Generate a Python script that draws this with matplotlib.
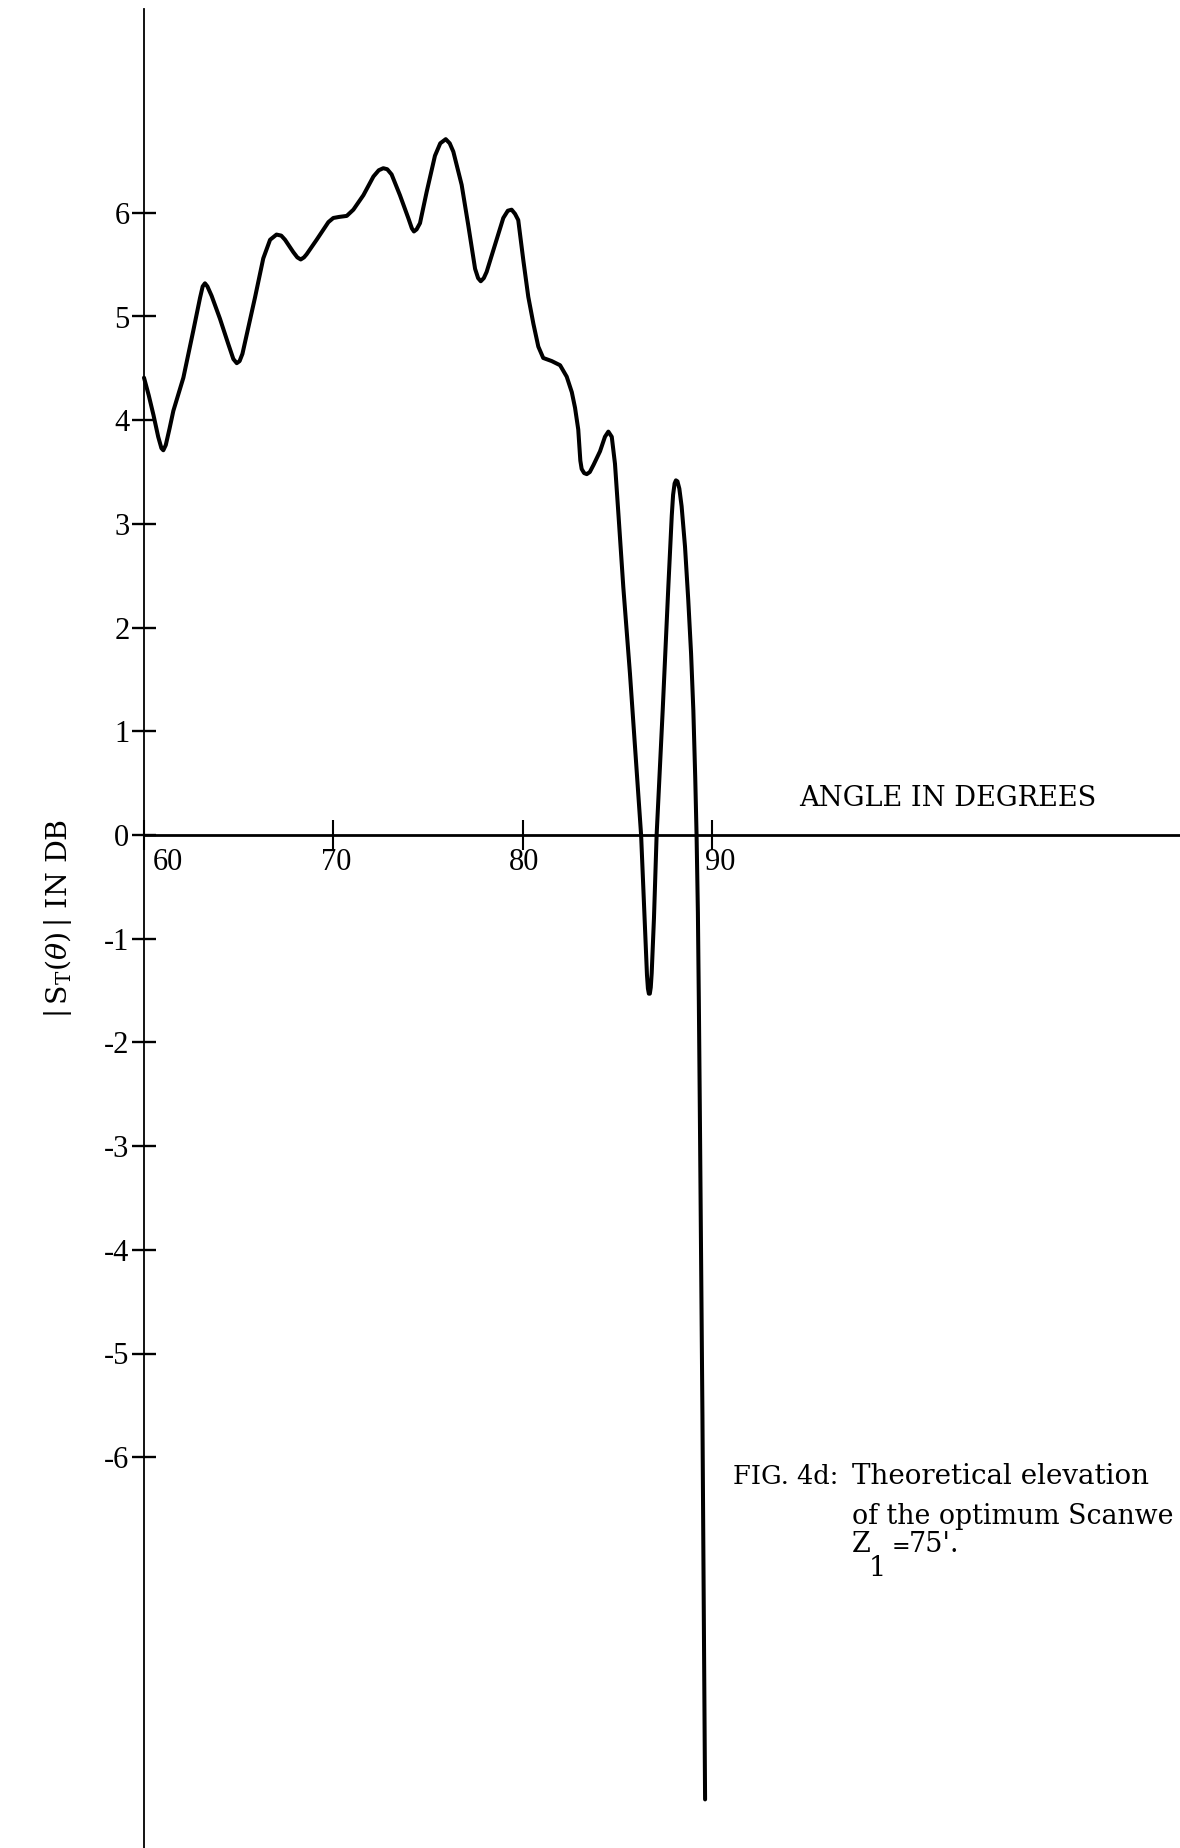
import matplotlib
matplotlib.use("Agg")
import matplotlib.pyplot as plt

# Elevation pattern |S_T(theta)| in dB versus elevation angle in degrees
angle_deg = [
    60.00, 60.25, 60.50, 60.75, 60.92, 61.02, 61.15, 61.35, 61.55, 62.08,
    62.60, 62.96, 63.10, 63.22, 63.35, 63.57, 64.01, 64.46, 64.72, 64.90,
    65.05, 65.20, 65.42, 65.86, 66.30, 66.66, 67.00, 67.25, 67.45, 67.89,
    68.10, 68.28, 68.45, 68.59, 69.12, 69.74, 70.00, 70.30, 70.71, 71.06,
    71.59, 72.12, 72.40, 72.64, 72.85, 73.08, 73.52, 73.96, 74.15, 74.26,
    74.40, 74.58, 74.93, 75.37, 75.65, 75.94, 76.15, 76.34, 76.78, 77.13,
    77.49, 77.65, 77.79, 77.95, 78.10, 78.54, 78.98, 79.22, 79.42, 79.60,
    79.77, 80.04, 80.30, 80.57, 80.83, 81.09, 81.54, 81.98, 82.33, 82.60,
    82.77, 82.94, 83.00, 83.05, 83.12, 83.25, 83.39, 83.55, 83.75, 84.09,
    84.35, 84.53, 84.71, 84.88, 85.06, 85.32, 85.67, 86.06, 86.26, 86.47,
    86.57, 86.62, 86.67, 86.72, 86.77, 86.82, 86.94, 87.08, 87.40, 87.70,
    87.88, 87.95, 88.03, 88.10, 88.18, 88.28, 88.40, 88.58, 88.75, 88.90,
    89.02, 89.12, 89.19, 89.26, 89.31, 89.36, 89.50, 89.64,
]
gain_db = [
    4.41, 4.24, 4.05, 3.84, 3.73, 3.71, 3.76, 3.92, 4.09, 4.41,
    4.86, 5.18, 5.29, 5.32, 5.29, 5.20, 4.98, 4.73, 4.59, 4.55,
    4.57, 4.64, 4.82, 5.18, 5.56, 5.74, 5.79, 5.78, 5.74, 5.62,
    5.57, 5.55, 5.57, 5.60, 5.74, 5.91, 5.95, 5.96, 5.97, 6.03,
    6.17, 6.35, 6.41, 6.43, 6.42, 6.37, 6.17, 5.95, 5.85, 5.82,
    5.84, 5.90, 6.20, 6.55, 6.67, 6.71, 6.67, 6.59, 6.27, 5.88,
    5.46, 5.37, 5.34, 5.37, 5.43, 5.69, 5.95, 6.02, 6.03, 5.99,
    5.93, 5.54, 5.19, 4.93, 4.71, 4.60, 4.57, 4.53, 4.42, 4.27,
    4.12, 3.91, 3.74, 3.61, 3.53, 3.49, 3.48, 3.50, 3.57, 3.70,
    3.84, 3.89, 3.84, 3.58, 3.10, 2.39, 1.56, 0.53, 0.00, -0.92,
    -1.35, -1.48, -1.53, -1.53, -1.47, -1.33, -0.80, 0.00, 1.20, 2.40,
    3.08, 3.28, 3.39, 3.42, 3.41, 3.34, 3.17, 2.78, 2.27, 1.75,
    1.20, 0.55, 0.00, -0.75, -1.60, -2.60, -5.60, -9.30,
]

y_ticks = [6, 5, 4, 3, 2, 1, 0, -1, -2, -3, -4, -5, -6]
y_tick_labels = ["6", "5", "4", "3", "2", "1", "0",
                 "-1", "-2", "-3", "-4", "-5", "-6"]
x_ticks = [60, 70, 80, 90]
x_tick_labels = ["60", "70", "80", "90"]

# ---- page geometry (pixels) ----
W, H, DPI = 1180, 1848, 100
X0_PX, DEG_PX = 144.0, 18.93     # x pixel of 60 deg, pixels per degree
Y0_PX, DB_PX = 835.0, 103.7      # y pixel of 0 dB, pixels per dB
AXIS_TOP_PX = 9.0

plt.rcParams["mathtext.fontset"] = "dejavuserif"
plt.rcParams["axes.unicode_minus"] = False

fig = plt.figure(figsize=(W / DPI, H / DPI), dpi=DPI)
fig.patch.set_facecolor("white")
ax = fig.add_axes([0, 0, 1, 1])
ax.set_facecolor("white")

x_left = 60 - X0_PX / DEG_PX
x_right = 60 + (W - X0_PX) / DEG_PX
y_bottom = -(H - Y0_PX) / DB_PX
y_top = Y0_PX / DB_PX
ax.set_xlim(x_left, x_right)
ax.set_ylim(y_bottom, y_top)

# axes drawn as crossing lines through (60 deg, 0 dB)
for side in ("top", "right"):
    ax.spines[side].set_visible(False)
ax.spines["left"].set_position(("data", 60))
ax.spines["left"].set_bounds(y_bottom, (Y0_PX - AXIS_TOP_PX) / DB_PX)
ax.spines["left"].set_linewidth(1.3)
ax.spines["bottom"].set_position(("data", 0))
ax.spines["bottom"].set_bounds(60, x_right)
ax.spines["bottom"].set_linewidth(2.0)

ax.set_yticks(y_ticks)
ax.set_yticklabels(y_tick_labels, fontfamily="Liberation Serif", fontsize=22)
ax.tick_params(axis="y", direction="inout", length=17, width=1.7, pad=2,
               colors="black")

ax.set_xticks(x_ticks)
ax.set_xticklabels([""] * len(x_ticks))
ax.tick_params(axis="x", direction="inout", length=21, width=1.5,
               colors="black")

# x tick labels sit beneath the axis, each nudged a little differently
x_label_dx_px = [24, 3, 1, 8]
for xv, lab, dx in zip(x_ticks, x_tick_labels, x_label_dx_px):
    ax.annotate(lab, xy=(xv, 0), xytext=(dx * 0.72, -27 * 0.72),
                textcoords="offset points", ha="center", va="center",
                fontfamily="Liberation Serif", fontsize=22)

ax.plot(angle_deg, gain_db, color="black", linewidth=2.9,
        solid_joinstyle="round", solid_capstyle="round")


def fx(px):
    return px / W


def fy(py):
    return 1 - py / H


serif = "DejaVu Serif"
fig.text(fx(799), fy(799), "ANGLE IN DEGREES", ha="left", va="center",
         fontfamily=serif, fontsize=19.6)

fig.text(fx(58), fy(918),
         r"$\left|\,\mathrm{S}_{\mathrm{T}}(\theta)\,\right|$ IN DB",
         rotation=90, ha="center", va="center", fontfamily=serif,
         fontsize=20.5)

fig.text(fx(733), fy(1477), "FIG. 4d:", ha="left", va="center",
         fontfamily=serif, fontsize=18.5)
fig.text(fx(852), fy(1477), "Theoretical elevation", ha="left",
         va="center", fontfamily=serif, fontsize=20)
fig.text(fx(852), fy(1517), "of the optimum Scanwe", ha="left",
         va="center", fontfamily=serif, fontsize=19.3)
fig.text(fx(852), fy(1545), "Z", ha="left", va="center",
         fontfamily=serif, fontsize=19.5)
fig.text(fx(877), fy(1568), "1", ha="center", va="center",
         fontfamily=serif, fontsize=19.5)
fig.text(fx(892), fy(1547), "=", ha="left", va="center",
         fontfamily=serif, fontsize=16)
fig.text(fx(909), fy(1545), "75'.", ha="left", va="center",
         fontfamily=serif, fontsize=19.5)

fig.savefig("out.png", dpi=DPI, facecolor="white")
